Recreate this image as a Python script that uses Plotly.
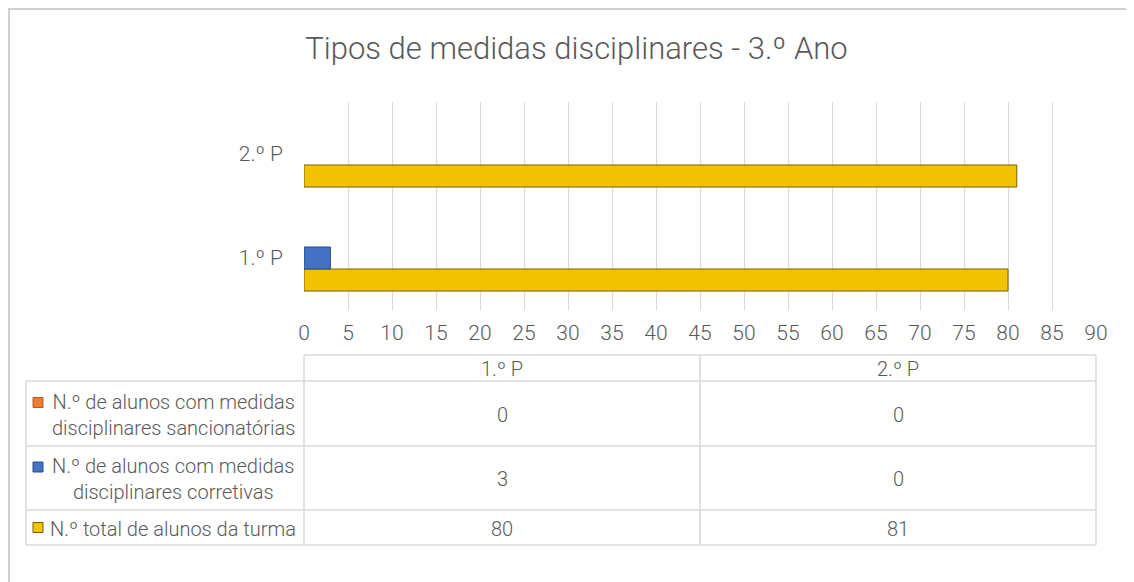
import plotly.graph_objects as go

categories = ["1.º P", "2.º P"]
series_names = [
    "N.º de alunos com medidas<br>disciplinares sancionatórias",
    "N.º de alunos com medidas<br>disciplinares corretivas",
    "N.º total de alunos da turma",
]
sancionatorias = [0, 0]
corretivas = [3, 0]
total = [80, 81]
x_ticks = list(range(0, 91, 5))

colors = ["#ED7D31", "#4472C4", "#F2C300"]
line_colors = ["#B85A1C", "#2A4A86", "#7A5E00"]
series_values = [sancionatorias, corretivas, total]

W, H = 1134, 582
OFF = 8  # page body margin offset
# plot-area edges in page pixels
PL, PR, PT, PB = 304, 1096, 102, 310
L, R, T, B = PL - OFF, PR - OFF, PT - OFF, PB - OFF
FONT = "Roboto, Liberation Sans, sans-serif"
GREY = "#595959"


def px(x):
    return (x - OFF - L) / (R - L)


def py(y):
    return (B - (y - OFF)) / (B - T)


fig = go.Figure()
for i in [2, 1, 0]:
    fig.add_trace(go.Bar(
        y=categories, x=series_values[i], orientation="h",
        name=series_names[i].replace("<br>", " "),
        marker=dict(color=colors[i],
                    line=dict(color=line_colors[i],
                              width=[1 if v > 0 else 0 for v in series_values[i]])),
        showlegend=False,
    ))

shapes = []
annotations = []
line_style = dict(color="#d9d9d9", width=1.5)

shapes.append(dict(type="rect", xref="paper", yref="paper",
                   x0=px(OFF + 1), x1=px(W + 40), y0=py(OFF + 1), y1=py(H + 40),
                   line=dict(color="#d0d0d0", width=2), layer="below"))

col_x = [PL, (PL + PR) / 2, PR]
header_top, header_bot = 355, 381
row_bounds = [381, 446, 510, 545]
left_x = 26
shapes.append(dict(type="line", xref="paper", yref="paper", x0=px(PL), x1=px(PR),
                   y0=py(header_top), y1=py(header_top), line=line_style))
for yb in row_bounds:
    shapes.append(dict(type="line", xref="paper", yref="paper", x0=px(left_x), x1=px(PR),
                       y0=py(yb), y1=py(yb), line=line_style))
for cx in col_x:
    shapes.append(dict(type="line", xref="paper", yref="paper", x0=px(cx), x1=px(cx),
                       y0=py(header_top), y1=py(row_bounds[-1]), line=line_style))
shapes.append(dict(type="line", xref="paper", yref="paper", x0=px(left_x), x1=px(left_x),
                   y0=py(row_bounds[0]), y1=py(row_bounds[-1]), line=line_style))

tfont = dict(family=FONT, size=20, color=GREY, weight=300)
for j, c in enumerate(categories):
    annotations.append(dict(xref="paper", yref="paper", x=px((col_x[j] + col_x[j + 1]) / 2),
                            y=py((header_top + header_bot) / 2 + 1), text=c, showarrow=False,
                            font=tfont, xanchor="center", yanchor="middle"))
for r in range(3):
    yc = (row_bounds[r] + row_bounds[r + 1]) / 2
    for j in range(2):
        annotations.append(dict(xref="paper", yref="paper", x=px((col_x[j] + col_x[j + 1]) / 2),
                                y=py(yc + 1), text=str(series_values[r][j]), showarrow=False,
                                font=tfont, xanchor="center", yanchor="middle"))
    annotations.append(dict(xref="paper", yref="paper", x=px(173), y=py(yc + 1),
                            text=series_names[r], showarrow=False, font=tfont,
                            xanchor="center", yanchor="middle", align="center"))
    ky = yc - 11 if r < 2 else yc
    shapes.append(dict(type="rect", xref="paper", yref="paper", x0=px(33), x1=px(43),
                       y0=py(ky - 5), y1=py(ky + 5), fillcolor=colors[r],
                       line=dict(color=line_colors[r], width=1)))

fig.update_layout(
    width=W, height=H,
    margin=dict(l=L, r=W - R, t=T, b=H - B),
    paper_bgcolor="white", plot_bgcolor="white",
    barmode="group", bargap=0.365, bargroupgap=0,
    title=dict(text="Tipos de medidas disciplinares - 3.º Ano",
               x=(576.5 - OFF) / W, xanchor="center",
               y=1 - (48 - OFF) / H, yanchor="middle",
               font=dict(family=FONT, size=31, color=GREY, weight=300)),
    xaxis=dict(range=[0, 90], tickvals=x_ticks, showgrid=True, gridcolor="#d9d9d9",
               gridwidth=1, zeroline=False, showline=False, ticks="",
               tickfont=dict(family=FONT, size=21, color=GREY, weight=300),
               ticklabelstandoff=8, fixedrange=True),
    yaxis=dict(categoryorder="array", categoryarray=categories, showgrid=False,
               zeroline=False, showline=False, ticks="",
               tickfont=dict(family=FONT, size=21, color=GREY, weight=300),
               ticklabelstandoff=20),
    shapes=shapes, annotations=annotations,
)

fig.write_html("out.html")
